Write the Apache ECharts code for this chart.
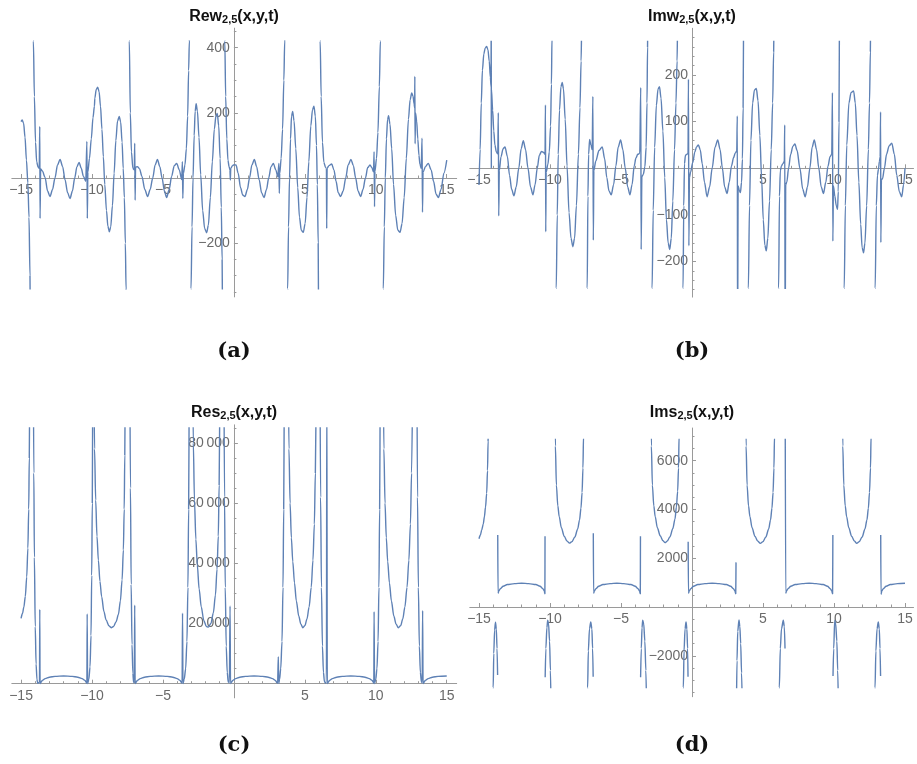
<!DOCTYPE html>
<html>
<head>
<meta charset="utf-8">
<script src="https://cdn.jsdelivr.net/npm/echarts@6/dist/echarts.min.js"></script>
<style>
html, body { margin: 0; padding: 0; background: #fff; }
#main { width: 917px; height: 764px; }
</style>
</head>
<body>
<div id="main"></div>
<script>
// tick labels
const xTicks = [-15, -10, -5, 5, 10, 15];
const rewTicks = [-200, 200, 400];
const imwTicks = [-200, -100, 100, 200];
const resTicks = [20000, 40000, 60000, 80000];
const imsTicks = [-2000, 2000, 4000, 6000];

const panelTitles = ['Rew', 'Imw', 'Res', 'Ims'];
const captions = ['(a)', '(b)', '(c)', '(d)'];

// curves, [x, y]; null = break in the curve
const rew = [
  [-15.0,173],[-14.92,178],[-14.82,168],[-14.72,125],[-14.62,55],[-14.52,-15],[-14.44,-120],[-14.37,-300],[-14.33,-600],
  null,
  [-14.18,600],[-14.13,420],[-14.06,250],[-13.98,110],[-13.9,50],[-13.8,33],[-13.72,30],[-13.68,158],[-13.66,-124],[-13.62,28],
  [-13.5,22],[-13.31,2],[-13.13,-40],[-12.96,-57],[-12.78,-35],[-12.61,0],[-12.43,40],[-12.25,57],[-12.07,35],[-11.9,-5],
  [-11.72,-45],[-11.55,-63],[-11.38,-40],[-11.22,0],[-11.06,35],[-10.91,48],[-10.76,30],[-10.6,5],[-10.44,-10],
  [-10.36,112],[-10.33,-124],[-10.29,19],[-10.18,60],[-10.05,120],[-9.93,185],[-9.83,220],[-9.8,245],[-9.7,272],[-9.6,279],
  [-9.5,265],[-9.4,220],[-9.3,150],[-9.2,65],[-9.1,-20],[-8.98,-100],[-8.88,-148],[-8.78,-165],[-8.68,-150],[-8.56,-85],
  [-8.44,15],[-8.32,115],[-8.2,175],[-8.08,189],[-7.98,172],[-7.88,110],[-7.8,30],[-7.72,-60],[-7.65,-200],[-7.6,-340],[-7.57,-600],
  null,
  [-7.42,600],[-7.37,420],[-7.3,200],[-7.22,80],[-7.12,30],[-7.02,25],[-6.99,107],[-6.96,-68],[-6.93,33],[-6.8,35],[-6.65,28],
  [-6.48,5],[-6.28,-35],[-6.08,-57],[-5.9,-35],[-5.72,0],[-5.55,40],[-5.39,57],[-5.22,35],[-5.06,0],[-4.9,-40],[-4.74,-60],
  [-4.56,-35],[-4.39,5],[-4.2,38],[-4.03,45],[-3.85,25],[-3.68,-5],[-3.63,50],[-3.6,-63],[-3.56,14],[-3.45,40],[-3.35,90],
  [-3.26,190],[-3.19,330],[-3.14,420],[-3.11,600],
  null,
  [-3.06,-600],[-3.02,-340],[-2.95,-150],[-2.88,0],[-2.8,130],[-2.73,205],[-2.66,228],[-2.57,205],[-2.46,125],[-2.34,10],
  [-2.2,-100],[-2.06,-155],[-1.92,-168],[-1.8,-145],[-1.66,-60],[-1.52,50],[-1.38,150],[-1.26,192],[-1.17,198],[-1.07,160],
  [-0.97,60],[-0.89,-90],[-0.83,-250],[-0.78,-600],
  null,
  [-0.68,600],[-0.64,420],[-0.58,250],[-0.5,120],[-0.42,55],[-0.34,35],[-0.28,25],[-0.25,-6],[-0.22,30],[-0.1,38],[0.02,41],
  [0.15,40],[0.3,15],[0.47,-30],[0.62,-52],[0.78,-57],[0.95,-35],[1.1,0],[1.27,40],[1.44,57],[1.6,35],[1.78,-5],[1.95,-45],
  [2.12,-60],[2.3,-35],[2.45,0],[2.62,35],[2.78,45],[2.95,25],[3.1,4],[3.17,45],[3.2,-47],[3.23,14],[3.33,60],[3.43,150],
  [3.52,300],[3.58,420],[3.62,600],
  null,
  [3.76,-600],[3.79,-340],[3.85,-150],[3.92,0],[3.99,120],[4.06,190],[4.14,204],[4.24,175],[4.36,90],[4.5,-30],[4.62,-120],
  [4.75,-160],[4.89,-167],[5.02,-140],[5.15,-60],[5.28,50],[5.42,160],[5.54,210],[5.64,220],[5.74,190],[5.82,100],[5.88,-20],
  [5.94,-200],[5.98,-600],
  null,
  [6.03,600],[6.08,420],[6.15,250],[6.24,110],[6.34,48],[6.46,32],[6.52,30],[6.54,-155],[6.57,30],[6.7,38],[6.89,43],[7.05,25],
  [7.2,-10],[7.35,-45],[7.52,-57],[7.7,-40],[7.88,0],[8.05,40],[8.25,57],[8.42,38],[8.58,0],[8.75,-40],[8.93,-57],[9.1,-35],
  [9.27,0],[9.43,32],[9.59,40],[9.72,32],[9.84,19],[9.88,81],[9.91,-88],[9.94,20],[10.05,60],[10.15,140],[10.25,280],[10.32,420],[10.37,600],
  null,
  [10.49,-600],[10.53,-340],[10.6,-150],[10.67,0],[10.75,120],[10.83,180],[10.9,191],[11.0,165],[11.12,90],[11.25,-20],[11.4,-115],
  [11.55,-160],[11.71,-167],[11.85,-140],[12.0,-60],[12.15,60],[12.3,180],[12.42,240],[12.53,261],[12.62,252],[12.7,228],
  [12.74,215],[12.75,312],[12.77,105],[12.8,200],[12.88,175],[12.96,120],[13.04,70],[13.11,42],[13.2,30],[13.26,122],[13.29,-105],
  [13.33,18],[13.5,35],[13.7,45],[13.9,25],[14.07,-10],[14.25,-50],[14.41,-60],[14.6,-35],[14.8,15],[15.0,55]
];

const imw = [
  [-15.0,-36],[-14.92,40],[-14.84,140],[-14.76,210],[-14.66,245],[-14.56,258],[-14.46,261],[-14.37,254],[-14.28,230],[-14.2,195],
  [-14.15,175],[-14.14,400],[-14.13,0],[-14.12,168],[-14.04,125],[-13.96,80],[-13.88,50],[-13.78,35],[-13.68,31],[-13.64,119],
  [-13.61,-102],[-13.57,-5],[-13.45,25],[-13.3,42],[-13.17,46],[-13.0,25],[-12.85,-15],[-12.7,-45],[-12.54,-59],[-12.38,-40],
  [-12.2,0],[-12.03,42],[-11.88,59],[-11.72,40],[-11.55,0],[-11.37,-40],[-11.2,-57],[-11.05,-35],[-10.9,0],[-10.75,28],[-10.6,36],
  [-10.45,34],[-10.35,30],[-10.32,136],[-10.3,-136],[-10.27,-8],[-10.15,8],[-10.05,35],[-9.96,90],[-9.9,180],[-9.86,280],[-9.83,400],
  null,
  [-9.6,-400],[-9.56,-257],[-9.49,-100],[-9.42,30],[-9.33,125],[-9.23,175],[-9.14,184],[-9.05,170],[-8.93,105],[-8.8,5],
  [-8.66,-95],[-8.52,-150],[-8.39,-168],[-8.27,-150],[-8.14,-80],[-8.0,30],[-7.89,130],[-7.81,230],[-7.76,320],[-7.72,400],
  null,
  [-7.42,-400],[-7.38,-257],[-7.33,-60],[-7.28,30],[-7.21,62],[-7.12,50],[-7.03,40],[-6.98,154],[-6.95,-154],[-6.91,-5],
  [-6.78,15],[-6.55,38],[-6.32,46],[-6.15,20],[-6.0,-20],[-5.85,-48],[-5.69,-57],[-5.52,-35],[-5.36,5],[-5.2,45],[-5.03,61],
  [-4.87,40],[-4.7,0],[-4.53,-40],[-4.37,-57],[-4.22,-35],[-4.07,5],[-3.95,22],[-3.82,30],[-3.68,32],[-3.61,173],[-3.58,-174],
  [-3.53,-18],[-3.43,-13],[-3.32,3],[-3.23,45],[-3.17,140],[-3.13,260],[-3.1,400],
  null,
  [-2.85,-400],[-2.81,-257],[-2.73,-90],[-2.63,45],[-2.51,135],[-2.39,170],[-2.29,175],[-2.18,150],[-2.05,80],[-1.92,-20],
  [-1.8,-110],[-1.68,-160],[-1.57,-174],[-1.46,-150],[-1.35,-70],[-1.23,40],[-1.13,140],[-1.05,230],[-1.01,320],[-0.97,400],
  null,
  [-0.67,-400],[-0.63,-257],[-0.58,-80],[-0.53,10],[-0.46,28],[-0.36,30],[-0.28,32],[-0.25,191],[-0.22,-166],[-0.18,-20],
  [-0.1,-8],[0.05,12],[0.2,35],[0.32,46],[0.45,50],[0.58,40],[0.72,10],[0.88,-30],[1.06,-61],[1.24,-40],[1.42,0],[1.62,45],
  [1.81,61],[1.98,40],[2.14,0],[2.3,-40],[2.47,-54],[2.62,-30],[2.78,5],[2.93,23],[3.05,33],[3.15,37],[3.19,112],[3.21,-400],
  [3.25,-38],[3.33,-47],[3.41,-52],[3.49,-30],[3.55,20],[3.6,130],[3.64,400],
  null,
  [3.93,-400],[3.97,-257],[4.05,-80],[4.15,60],[4.27,140],[4.4,168],[4.53,171],[4.65,145],[4.78,70],[4.9,-20],[5.02,-110],
  [5.13,-165],[5.23,-177],[5.34,-150],[5.46,-70],[5.58,40],[5.68,140],[5.75,250],[5.8,400],
  null,
  [6.06,-400],[6.1,-257],[6.16,-60],[6.22,-5],[6.3,5],[6.4,10],[6.5,15],[6.53,93],[6.56,-400],[6.6,-35],[6.68,-29],[6.8,0],
  [6.95,30],[7.1,47],[7.25,52],[7.4,38],[7.6,0],[7.8,-45],[7.97,-61],[8.13,-40],[8.3,0],[8.46,45],[8.61,61],[8.77,40],[8.93,0],
  [9.1,-40],[9.26,-54],[9.42,-30],[9.58,5],[9.72,25],[9.84,30],[9.89,162],[9.92,-156],[9.96,-38],[10.06,-60],[10.16,-80],
  [10.25,-88],[10.3,-50],[10.35,100],[10.39,400],
  null,
  [10.68,-400],[10.72,-257],[10.8,-80],[10.9,50],[11.05,140],[11.2,162],[11.38,166],[11.5,140],[11.62,70],[11.75,-30],
  [11.88,-120],[11.98,-170],[12.08,-181],[12.18,-160],[12.3,-80],[12.42,40],[12.5,140],[12.56,250],[12.6,400],
  null,
  [12.86,-400],[12.9,-257],[12.98,-80],[13.06,-15],[13.13,-2],[13.2,15],[13.25,25],[13.28,121],[13.3,-159],[13.34,-25],
  [13.42,-22],[13.55,0],[13.7,30],[13.88,48],[14.07,54],[14.25,30],[14.42,-15],[14.6,-50],[14.77,-61],[14.9,-35],[15.0,0]
];

const res = [
  [-15.0,21700],[-14.9,23300],[-14.8,25500],[-14.7,29000],[-14.6,35500],[-14.52,45000],[-14.46,58000],[-14.42,75000],[-14.39,100000],
  null,
  [-14.13,100000],[-14.1,70000],[-14.06,42000],[-14.0,19000],[-13.94,6500],[-13.88,1500],[-13.83,150],[-13.76,300],[-13.7,450],
  [-13.68,24700],[-13.66,50],[-13.6,500],[-13.5,1100],[-13.3,1700],[-13.0,2150],[-12.6,2450],[-12.0,2580],[-11.4,2450],
  [-11.0,2150],[-10.7,1700],[-10.5,1100],[-10.4,500],[-10.36,150],[-10.34,23200],[-10.31,50],[-10.22,1500],[-10.14,5600],
  [-10.07,16000],[-10.02,36000],[-9.98,60000],[-9.95,100000],
  null,
  [-9.86,100000],[-9.82,78000],[-9.74,61000],[-9.65,49000],[-9.55,41000],[-9.44,34000],[-9.32,28900],[-9.16,24000],[-9.01,21200],
  [-8.8,19200],[-8.65,18600],[-8.48,19000],[-8.3,20600],[-8.14,23000],[-8.0,27500],[-7.88,34500],[-7.79,44400],[-7.73,58000],
  [-7.69,76000],[-7.66,100000],
  null,
  [-7.33,100000],[-7.29,65000],[-7.24,33000],[-7.18,13000],[-7.12,3500],[-7.07,500],[-7.02,300],[-6.99,26100],[-6.96,50],
  [-6.9,500],[-6.8,1100],[-6.6,1700],[-6.3,2150],[-5.9,2450],[-5.3,2580],[-4.7,2450],[-4.3,2150],[-4.0,1700],[-3.8,1100],
  [-3.7,500],[-3.65,150],[-3.62,23400],[-3.59,50],[-3.5,1500],[-3.4,5000],[-3.31,14000],[-3.24,32000],[-3.19,58000],[-3.15,100000],
  null,
  [-2.9,100000],[-2.86,80000],[-2.78,61000],[-2.68,48000],[-2.58,39500],[-2.45,31500],[-2.3,25500],[-2.12,21000],[-1.94,19000],
  [-1.8,18800],[-1.62,20000],[-1.45,23500],[-1.3,29500],[-1.19,38000],[-1.1,49000],[-1.04,66000],[-0.99,100000],
  null,
  [-0.7,100000],[-0.66,62000],[-0.61,32000],[-0.54,12500],[-0.47,3800],[-0.4,600],[-0.32,250],[-0.27,25800],[-0.24,50],
  [-0.18,500],[-0.08,1100],[0.12,1700],[0.42,2150],[0.82,2450],[1.42,2580],[2.02,2450],[2.42,2150],[2.72,1700],[2.92,1100],
  [3.02,500],[3.08,150],[3.13,9000],[3.16,100],[3.22,1500],[3.3,5000],[3.39,14000],[3.46,32000],[3.51,58000],[3.55,100000],
  null,
  [3.84,100000],[3.88,78000],[3.96,60000],[4.05,48500],[4.15,40500],[4.27,33500],[4.4,27500],[4.57,22500],[4.72,19800],
  [4.86,18600],[5.0,19300],[5.15,21500],[5.3,25500],[5.45,32000],[5.57,41000],[5.67,53000],[5.74,70000],[5.8,100000],
  null,
  [6.07,100000],[6.11,62000],[6.17,32000],[6.24,12500],[6.31,3800],[6.38,700],[6.46,200],[6.52,300],[6.55,100000],[6.58,50],
  [6.64,500],[6.74,1100],[6.94,1700],[7.24,2150],[7.64,2450],[8.24,2580],[8.84,2450],[9.24,2150],[9.54,1700],[9.74,1100],
  [9.82,500],[9.86,150],[9.88,23900],[9.91,50],[10.0,1500],[10.08,5000],[10.16,14000],[10.22,32000],[10.27,58000],[10.31,100000],
  null,
  [10.53,100000],[10.57,78000],[10.65,60000],[10.74,48500],[10.84,40500],[10.96,33500],[11.1,27500],[11.27,22500],[11.43,19800],
  [11.59,18600],[11.75,19300],[11.9,21500],[12.05,25500],[12.2,32000],[12.33,41000],[12.44,53000],[12.52,70000],[12.6,100000],
  null,
  [12.9,100000],[12.94,62000],[13.0,32000],[13.07,12500],[13.14,3800],[13.21,700],[13.27,300],[13.3,24300],[13.33,50],
  [13.39,500],[13.49,1100],[13.69,1700],[13.99,2150],[14.39,2450],[15.0,2580]
];

const ims = [
  [-15.0,2800],[-14.9,2950],[-14.81,3160],[-14.7,3400],[-14.62,3700],[-14.54,4100],[-14.46,4660],[-14.4,5600],[-14.36,6800],[-14.33,9000],
  null,
  [-14.02,-4000],[-14.0,-3300],[-13.96,-1900],[-13.9,-950],[-13.84,-620],[-13.78,-900],[-13.73,-1700],[-13.69,-2790],
  null,
  [-13.68,2950],[-13.66,560],[-13.6,660],[-13.5,750],[-13.3,850],[-13.0,920],[-12.5,960],[-12.0,975],[-11.5,960],[-11.0,920],
  [-10.7,850],[-10.5,750],[-10.4,660],[-10.36,540],[-10.35,2900],
  null,
  [-10.34,-2880],[-10.29,-1700],[-10.22,-850],[-10.16,-540],[-10.1,-700],[-10.03,-1400],[-9.97,-2600],[-9.93,-4000],
  null,
  [-9.66,9000],[-9.62,6600],[-9.55,5000],[-9.45,4150],[-9.35,3700],[-9.2,3250],[-9.0,2900],[-8.8,2700],[-8.63,2620],[-8.45,2680],
  [-8.25,2870],[-8.05,3200],[-7.92,3570],[-7.82,4050],[-7.74,4700],[-7.68,5700],[-7.64,7000],[-7.61,9000],
  null,
  [-7.38,-4000],[-7.35,-3300],[-7.3,-1800],[-7.22,-900],[-7.13,-610],[-7.05,-900],[-7.0,-1700],[-6.96,-2860],
  null,
  [-6.95,3020],[-6.93,560],[-6.87,660],[-6.77,750],[-6.57,850],[-6.27,920],[-5.77,960],[-5.29,975],[-4.8,960],[-4.3,920],
  [-4.0,850],[-3.8,750],[-3.7,660],[-3.64,540],[-3.63,2900],
  null,
  [-3.62,-2880],[-3.57,-1700],[-3.52,-850],[-3.47,-540],[-3.4,-700],[-3.32,-1400],[-3.25,-2600],[-3.2,-4000],
  null,
  [-2.9,9000],[-2.86,6600],[-2.79,5000],[-2.69,4150],[-2.59,3700],[-2.44,3250],[-2.24,2920],[-2.05,2720],[-1.9,2640],[-1.75,2700],
  [-1.55,2880],[-1.35,3220],[-1.2,3600],[-1.1,4100],[-1.01,4750],[-0.95,5700],[-0.91,7000],[-0.88,9000],
  null,
  [-0.64,-4000],[-0.61,-3300],[-0.56,-1800],[-0.49,-900],[-0.42,-610],[-0.36,-900],[-0.31,-1700],[-0.28,-2860],
  null,
  [-0.27,2680],[-0.25,560],[-0.19,660],[-0.09,750],[0.11,850],[0.41,920],[0.91,960],[1.42,975],[1.92,960],[2.42,920],
  [2.72,850],[2.92,750],[3.02,660],[3.08,540],[3.1,1830],
  null,
  [3.14,-3500],[3.17,-2200],[3.22,-1000],[3.31,-530],[3.37,-800],[3.43,-1500],[3.49,-2700],[3.54,-4000],
  null,
  [3.78,9000],[3.81,6600],[3.88,5000],[3.98,4150],[4.08,3700],[4.23,3250],[4.43,2900],[4.63,2700],[4.81,2610],[5.0,2680],
  [5.2,2870],[5.4,3200],[5.53,3570],[5.63,4050],[5.71,4700],[5.77,5700],[5.81,7000],[5.85,9000],
  null,
  [6.12,-4000],[6.15,-3300],[6.22,-1700],[6.3,-900],[6.43,-540],[6.5,-800],[6.55,-1700],
  null,
  [6.56,9000],[6.6,560],[6.66,660],[6.76,750],[6.96,850],[7.26,920],[7.76,960],[8.25,975],[8.74,960],[9.24,920],[9.54,850],
  [9.74,750],[9.84,660],[9.9,540],[9.92,2950],
  null,
  [9.93,-2830],[9.98,-1700],[10.05,-540],[10.12,-700],[10.2,-1400],[10.26,-2600],[10.31,-4000],
  null,
  [10.58,9000],[10.62,6600],[10.69,5000],[10.79,4150],[10.89,3700],[11.04,3250],[11.24,2900],[11.44,2700],[11.6,2610],
  [11.78,2680],[11.98,2870],[12.18,3200],[12.32,3570],[12.42,4050],[12.5,4700],[12.57,5700],[12.61,7000],[12.65,9000],
  null,
  [12.86,-4000],[12.89,-3300],[12.95,-1800],[13.03,-900],[13.12,-610],[13.19,-900],[13.24,-1700],[13.28,-2830],
  null,
  [13.29,2950],[13.31,520],[13.37,660],[13.47,750],[13.67,850],[13.97,920],[14.47,960],[15.0,975]
];

const LINE = '#5e81b5';
const AXIS = '#9a9a9a';
const LABEL = '#6a6a6a';
const FONT = 'Liberation Sans';

// x0,y0 = pixel of origin, sx,sy = px per unit
const panels = [
  { data: rew, yMajor: rewTicks, x0: 233.9, y0: 178, sx: 14.19, sy: 0.3258, xr: [-15.65, 15.7],
    axisY: [-365, 460], clipY: [-340, 420], minorStep: 50, majorStep: 200, tx: 234, ty: 16, cy: 352 },
  { data: imw, yMajor: imwTicks, x0: 692, y0: 168.3, sx: 14.2, sy: 0.4667, xr: [-15.65, 15.6],
    axisY: [-276, 300], clipY: [-257, 272], minorStep: 20, majorStep: 100, tx: 692, ty: 16, cy: 352 },
  { data: res, yMajor: resTicks, x0: 233.9, y0: 683.7, sx: 14.19, sy: 0.00301, xr: [-15.65, 15.7],
    axisY: [-4700, 86000], clipY: [-4700, 85000], minorStep: 5000, majorStep: 20000, tx: 234, ty: 412, cy: 746 },
  { data: ims, yMajor: imsTicks, x0: 692, y0: 607, sx: 14.2, sy: 0.024385, xr: [-15.65, 15.6],
    axisY: [-3680, 7340], clipY: [-3300, 6870], minorStep: 500, majorStep: 2000, tx: 692, ty: 412, cy: 746 }
];

function fmt(v) {
  let s = String(Math.abs(v));
  if (Math.abs(v) >= 10000) s = s.slice(0, -3) + '\u2009' + s.slice(-3);
  return (v < 0 ? '\u2212' : '') + s;
}

function minorList(lo, hi, step, majorStep) {
  const out = [];
  for (let v = Math.ceil(lo / step) * step; v <= hi; v += step) {
    if (Math.abs(v % majorStep) > 1e-9) out.push(v);
  }
  return out;
}

function rectFor(p, yr) {
  return {
    left: p.x0 + p.xr[0] * p.sx,
    width: (p.xr[1] - p.xr[0]) * p.sx,
    top: p.y0 - yr[1] * p.sy,
    height: (yr[1] - yr[0]) * p.sy,
    containLabel: false,
    outerBoundsMode: 'none'
  };
}

// axes are shifted onto the origin with a negative offset, labels follow
function majorAxis(g, r, ticks, pos, off) {
  return {
    type: 'value', gridIndex: g, min: r[0], max: r[1], position: pos, offset: off,
    axisLine: { show: true, onZero: false, lineStyle: { color: AXIS, width: 1 } },
    axisTick: { show: true, inside: true, length: 4, customValues: ticks, lineStyle: { color: AXIS } },
    axisLabel: { show: true, customValues: ticks, formatter: fmt, color: LABEL, fontSize: 14,
      fontFamily: FONT, margin: pos === 'bottom' ? 5 : 4 },
    splitLine: { show: false }, minorTick: { show: false }
  };
}

function minorAxis(g, r, ticks, pos, off) {
  return {
    type: 'value', gridIndex: g, min: r[0], max: r[1], position: pos, offset: off,
    axisLine: { show: false, onZero: false },
    axisTick: { show: true, inside: true, length: 2.5, customValues: ticks, lineStyle: { color: AXIS } },
    axisLabel: { show: false },
    splitLine: { show: false }
  };
}

const grid = [], xAxis = [], yAxis = [], series = [], graphic = [];
const titleRich = {
  m: { fontFamily: FONT, fontWeight: 'bold', fontSize: 16, fill: '#111', lineHeight: 18, verticalAlign: 'bottom' },
  s: { fontFamily: FONT, fontWeight: 'bold', fontSize: 11, fill: '#111', lineHeight: 8, verticalAlign: 'bottom' }
};

panels.forEach((p, i) => {
  const gA = grid.length;
  grid.push(rectFor(p, p.axisY));
  const gD = grid.length;
  grid.push(rectFor(p, p.clipY));

  const xOff = p.axisY[0] * p.sy;   // move bottom axis up to y = 0
  const yOff = p.xr[0] * p.sx;      // move left axis right to x = 0

  xAxis.push(majorAxis(gA, p.xr, xTicks, 'bottom', xOff));
  xAxis.push(minorAxis(gA, p.xr, minorList(-15, 15, 1, 5), 'bottom', xOff));
  const xd = xAxis.length;
  xAxis.push({ type: 'value', gridIndex: gD, min: p.xr[0], max: p.xr[1], show: false });

  yAxis.push(majorAxis(gA, p.axisY, p.yMajor, 'left', yOff));
  yAxis.push(minorAxis(gA, p.axisY, minorList(p.axisY[0], p.axisY[1], p.minorStep, p.majorStep), 'left', yOff));
  const yd = yAxis.length;
  yAxis.push({ type: 'value', gridIndex: gD, min: p.clipY[0], max: p.clipY[1], show: false });

  series.push({
    type: 'line', xAxisIndex: xd, yAxisIndex: yd,
    data: p.data.map(d => d === null ? ['-', '-'] : d),
    showSymbol: false, symbol: 'none', smooth: 0.3, smoothMonotone: 'x', clip: true,
    lineStyle: { color: LINE, width: 1.4 }, silent: true
  });

  graphic.push({
    type: 'text', x: p.tx, y: p.ty, z: 100,
    style: { text: '{m|' + panelTitles[i] + '}{s|2,5}{m|(x,y,t)}', rich: titleRich, align: 'center', verticalAlign: 'middle' }
  });
  graphic.push({
    type: 'text', x: p.tx, y: p.cy, z: 100,
    style: { text: captions[i], fontFamily: 'DejaVu Serif', fontWeight: 'bold', fontSize: 21, fill: '#111',
      align: 'center', verticalAlign: 'middle' }
  });
});

const chart = echarts.init(document.getElementById('main'), null, { renderer: 'canvas' });
chart.setOption({
  backgroundColor: '#fff',
  animation: false,
  grid: grid,
  xAxis: xAxis,
  yAxis: yAxis,
  series: series,
  graphic: graphic
});
</script>
</body>
</html>
